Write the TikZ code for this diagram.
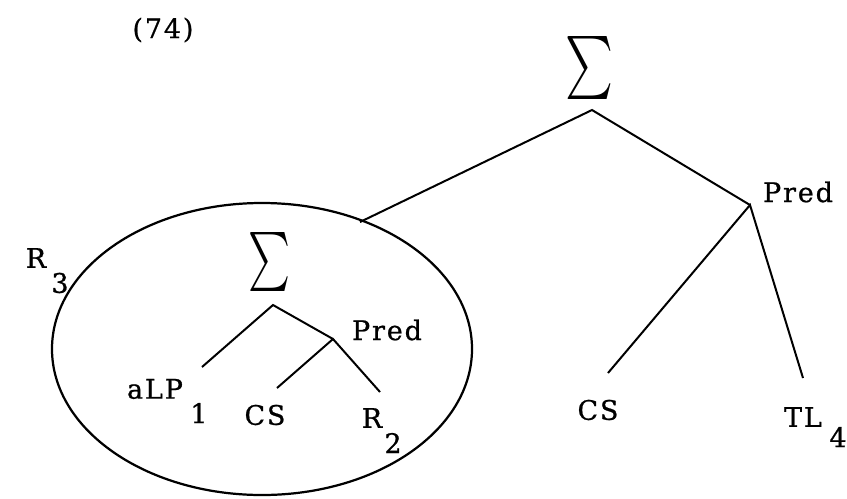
\documentclass[tikz,border=0pt]{standalone}
\usepackage{fontspec}
\usepackage{graphicx}
\setmainfont[LetterSpace=7,FakeBold=0.8]{DejaVu Serif}
\usetikzlibrary{shapes.geometric}
\begin{document}
\begin{tikzpicture}[x=0.03cm,y=-0.03cm,
  lbl/.style={inner sep=0pt, font=\fontsize{23}{26}\selectfont},
  edge/.style={line width=1.7pt}]
\useasboundingbox (0,0) rectangle (847,498);
% number
\node[lbl] (num) at (163,30) {(74)};
% top tree
\node[inner sep=0pt] (S1) at (589,68) {\resizebox*{1.44cm}{1.89cm}{$\sum$}};
\coordinate (a1) at (592,110);
\coordinate (e1) at (360,222);
\coordinate (p1) at (750,205);
\coordinate (c1) at (608,373);
\coordinate (t1) at (803,378);
\node[lbl] (pred1) at (798,192) {Pred};
\node[lbl] (cs1) at (598,410) {CS};
\node[lbl] (tl) at (803,417) {TL};
\node[lbl] (tlsub) at (838,437) {4};
\draw[edge] (e1) -- (a1) -- (p1);
\draw[edge] (c1) -- (p1) -- (t1);
% ellipse
\node[draw, ellipse, line width=1.9pt, minimum width=12.6cm, minimum height=8.76cm, inner sep=0pt] (ell) at (262,349) {};
\node[lbl] (r3) at (36,258) {R};
\node[lbl] (r3sub) at (60,283) {3};
% inner tree
\node[inner sep=0pt] (S2) at (269,262) {\resizebox*{1.26cm}{1.77cm}{$\sum$}};
\coordinate (a2) at (273,305);
\coordinate (l2) at (202,367);
\coordinate (p2) at (333,339);
\coordinate (c2) at (277,388);
\coordinate (r2c) at (380,392);
\node[lbl] (pred2) at (387,330) {Pred};
\node[lbl] (alp) at (155,389) {aLP};
\node[lbl] (alpsub) at (199,413) {1};
\node[lbl] (cs2) at (265,415) {CS};
\node[lbl] (r2) at (372,418) {R};
\node[lbl] (r2sub) at (393,443) {2};
\draw[edge] (l2) -- (a2) -- (p2);
\draw[edge] (c2) -- (p2) -- (r2c);
\end{tikzpicture}
\end{document}
